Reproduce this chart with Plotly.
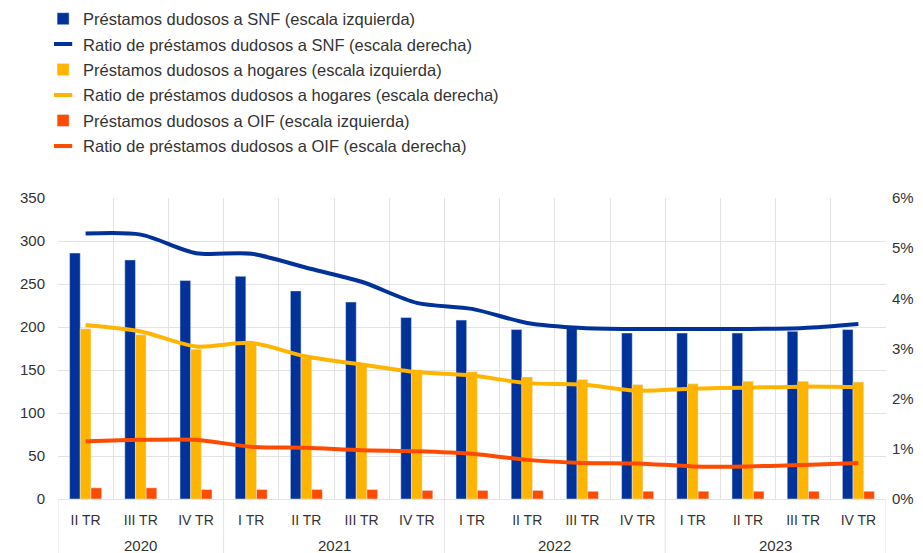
import plotly.graph_objects as go

years = ["2020"] * 3 + ["2021"] * 4 + ["2022"] * 4 + ["2023"] * 4
quarters = ["II TR", "III TR", "IV TR",
            "I TR", "II TR", "III TR", "IV TR",
            "I TR", "II TR", "III TR", "IV TR",
            "I TR", "II TR", "III TR", "IV TR"]

snf_loans = [286, 278, 254, 259, 242, 229, 211, 208, 197, 199, 193, 193, 193, 195, 197]
hh_loans = [198, 191, 174, 180, 164, 157, 150, 148, 142, 139, 133, 134, 137, 137, 136]
oif_loans = [13, 13, 11, 11, 11, 11, 10, 10, 10, 9, 9, 9, 9, 9, 9]

snf_ratio = [5.29, 5.27, 4.90, 4.89, 4.61, 4.33, 3.91, 3.79, 3.51, 3.41, 3.39, 3.39, 3.39, 3.41, 3.49]
hh_ratio = [3.47, 3.34, 3.04, 3.11, 2.84, 2.68, 2.53, 2.46, 2.31, 2.28, 2.16, 2.20, 2.22, 2.24, 2.23]
oif_ratio = [1.15, 1.18, 1.18, 1.04, 1.02, 0.97, 0.95, 0.90, 0.78, 0.72, 0.71, 0.65, 0.65, 0.68, 0.72]

BLUE = "#003299"
YELLOW = "#FFB400"
ORANGE = "#FF4B00"
GRID = "#e3e3e3"
FONT = "Liberation Sans, Arial, sans-serif"
TXT = "#333333"

n = len(quarters)
xs = list(range(n))

fig = go.Figure()

def add_bar(vals, color, name, rank):
    fig.add_trace(go.Bar(x=xs, y=vals, marker_color=color, name=name,
                         legendgroup=name, legendrank=rank, yaxis="y"))

def add_line(vals, color, name, rank):
    fig.add_trace(go.Scatter(x=xs, y=vals, mode="lines", yaxis="y2",
                             line=dict(color=color, width=4, shape="spline", smoothing=0.8),
                             showlegend=False, name=name))
    fig.add_trace(go.Scatter(x=[None], y=[None], mode="markers", yaxis="y2",
                             marker=dict(symbol="line-ew", size=13,
                                         line=dict(color=color, width=4)),
                             name=name, legendgroup=name, legendrank=rank))

add_bar(snf_loans, BLUE, "Préstamos dudosos a SNF (escala izquierda)", 1)
add_bar(hh_loans, YELLOW, "Préstamos dudosos a hogares (escala izquierda)", 3)
add_bar(oif_loans, ORANGE, "Préstamos dudosos a OIF (escala izquierda)", 5)
add_line(snf_ratio, BLUE, "Ratio de préstamos dudosos a SNF (escala derecha)", 2)
add_line(hh_ratio, YELLOW, "Ratio de préstamos dudosos a hogares (escala derecha)", 4)
add_line(oif_ratio, ORANGE, "Ratio de préstamos dudosos a OIF (escala derecha)", 6)

# year groups: label positions and boundaries
groups = []
for i, yv in enumerate(years):
    if not groups or groups[-1][0] != yv:
        groups.append([yv, i, i])
    else:
        groups[-1][2] = i

annotations = []
shapes = []
bottom = -62 / 301
for yv, s, e in groups:
    annotations.append(dict(x=(s + e) / 2, y=-0.155, xref="x", yref="paper",
                            text=yv, showarrow=False, yanchor="middle",
                            font=dict(family=FONT, size=15, color=TXT)))
    shapes.append(dict(type="line", xref="x", yref="paper", x0=s - 0.5, x1=s - 0.5,
                       y0=0, y1=bottom, line=dict(color=GRID, width=1)))
shapes.append(dict(type="line", xref="x", yref="paper", x0=n - 0.5, x1=n - 0.5,
                   y0=0, y1=bottom, line=dict(color=GRID, width=1)))

fig.update_layout(
    width=923, height=553,
    margin=dict(l=50, r=45, t=190, b=62, autoexpand=False),
    paper_bgcolor="white", plot_bgcolor="white",
    font=dict(family=FONT, size=15, color=TXT),
    barmode="group", bargap=0.42, bargroupgap=0,
    showlegend=True,
    legend=dict(x=-0.018, xanchor="left", y=1.653, yanchor="top",
                traceorder="grouped", tracegroupgap=1,
                font=dict(family=FONT, size=16.5, color=TXT),
                bgcolor="rgba(0,0,0,0)"),
    xaxis=dict(range=[-0.5, n - 0.5], tickvals=xs, ticktext=quarters,
               showgrid=False, zeroline=False, automargin=False,
               minor=dict(tickvals=[i - 0.5 for i in range(n + 1)], showgrid=True,
                          gridcolor=GRID, gridwidth=1),
               tickfont=dict(family=FONT, size=14, color=TXT),
               showline=True, linecolor=GRID, linewidth=1, ticks="",
               ticklabelstandoff=8),
    yaxis=dict(range=[0, 350], dtick=50, showgrid=True, gridcolor=GRID,
               zeroline=False, automargin=False,
               tickfont=dict(family=FONT, size=15, color=TXT),
               ticklabelstandoff=12),
    yaxis2=dict(range=[0, 6], dtick=1, overlaying="y", side="right",
                showgrid=False, zeroline=False, ticksuffix="%", automargin=False,
                tickfont=dict(family=FONT, size=15, color=TXT),
                ticklabelstandoff=5),
    annotations=annotations,
    shapes=shapes,
)

fig.write_html("out.html")
